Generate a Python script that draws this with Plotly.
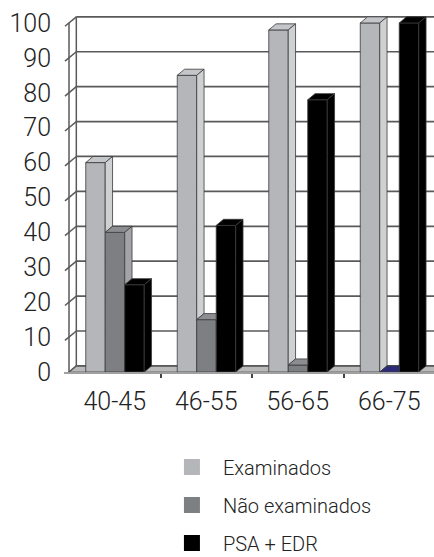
import plotly.graph_objects as go

# ---- data -------------------------------------------------------------
categories = ["40-45", "46-55", "56-65", "66-75"]
examinados = [60, 85, 98, 100]
nao_examinados = [40, 15, 2, 0]
psa_edr = [25, 42, 78, 100]
y_ticks = [0, 10, 20, 30, 40, 50, 60, 70, 80, 90, 100]

# ---- styling ----------------------------------------------------------
series = [
    # name, values, front colour, top colour, side colour
    ("Examinados", examinados, "#b4b6b9", "#c4c6c9", "#cfd0d2"),
    ("Não examinados", nao_examinados, "#7e7f83", "#8c8d91", "#a3a4a7"),
    ("PSA + EDR", psa_edr, "#000000", "#000000", "#000000"),
]
ZERO_TOP = "#2b2b7a"       # top face of an empty column
EDGE = "#3a3a3a"
FONT = "Roboto, Liberation Sans, Arial, sans-serif"
TEXT_WEIGHT = 300

BAR_W = 0.213                      # column width (category units)
OFFSETS = [-0.317, -0.104, 0.109]  # left edge of each column in a cluster
DX, DY = 0.08, 1.75                # 3-D depth in x / y data units
X_WALL = -0.5                      # front edge of the left wall
X_RANGE = [-0.5546, 3.489]
Y_RANGE = [0, 104]

fig = go.Figure()

# front faces of the columns
for k, (name, vals, front, top, side) in enumerate(series):
    fig.add_trace(go.Bar(
        x=list(range(len(categories))), y=vals, name=name,
        width=BAR_W, offset=OFFSETS[k],
        marker=dict(color=front, line=dict(color=EDGE, width=0.8)),
        legendgroup=name, showlegend=False, hoverinfo="skip",
    ))


def poly(xs, ys, color, group):
    fig.add_trace(go.Scatter(
        x=xs + [xs[0]], y=ys + [ys[0]], mode="lines", fill="toself",
        fillcolor=color, line=dict(color=EDGE, width=0.8),
        legendgroup=group, showlegend=False, hoverinfo="skip",
    ))


# top and side faces, hidden where the neighbouring column covers them
for k, (name, vals, front, top, side) in enumerate(series):
    for i, v in enumerate(vals):
        xl = i + OFFSETS[k]
        xr = xl + BAR_W
        vn = series[k + 1][1][i] if k + 1 < len(series) else None
        tcol = ZERO_TOP if v == 0 else top
        if vn is None or vn <= v:
            poly([xl, xr, xr + DX, xl + DX], [v, v, v + DY, v + DY], tcol, name)
        else:
            poly([xl, xr, xr, xl + DX], [v, v, v + DY, v + DY], tcol, name)
        if vn is None:
            poly([xr, xr + DX, xr + DX, xr], [0, DY, v + DY, v], side, name)
        elif vn < v:
            poly([xr, xr + DX, xr + DX, xr], [vn, vn + DY, v + DY, v], side, name)

# legend entries
for name, vals, front, top, side in series:
    fig.add_trace(go.Scatter(
        x=[None], y=[None], mode="markers", name=name, legendgroup=name,
        marker=dict(symbol="square", size=16, color=front),
    ))

# back wall grid, floor and left wall
shapes = []
xb = X_WALL + DX
shapes.append(dict(
    type="path", xref="x", yref="y", layer="below",
    path=f"M{X_WALL},0 L{X_RANGE[1] + 1},0 L{X_RANGE[1] + 1 + DX},{DY} L{xb},{DY} Z",
    fillcolor="#b9b9b9", line=dict(color="#6a6a6a", width=1),
))
for t in y_ticks:
    shapes.append(dict(type="line", xref="x", yref="y", layer="below",
                       x0=xb, x1=X_RANGE[1] + 1, y0=t + DY, y1=t + DY,
                       line=dict(color="#5a5a5a", width=1.7)))
    shapes.append(dict(type="line", xref="x", yref="y", layer="below",
                       x0=X_WALL - 0.044, x1=xb, y0=t - 0.95, y1=t + DY,
                       line=dict(color="#5a5a5a", width=1.5)))
shapes.append(dict(type="line", xref="x", yref="y", layer="below",
                   x0=X_WALL, x1=X_WALL, y0=0, y1=y_ticks[-1],
                   line=dict(color="#5a5a5a", width=1.5)))
shapes.append(dict(type="line", xref="x", yref="y", layer="below",
                   x0=xb, x1=xb, y0=DY, y1=y_ticks[-1] + DY,
                   line=dict(color="#5a5a5a", width=1.5)))

fig.update_layout(
    width=434, height=557,
    margin=dict(l=64, r=0, t=9, b=185, autoexpand=False),
    paper_bgcolor="white", plot_bgcolor="white",
    barmode="overlay",
    font=dict(family=FONT, color="#222222", weight=TEXT_WEIGHT),
    shapes=shapes,
    showlegend=True,
    legend=dict(
        x=0.262, xanchor="left", y=-0.208, yanchor="top",
        font=dict(size=20, family=FONT, color="#222222", weight=TEXT_WEIGHT),
        itemwidth=52, tracegroupgap=9, traceorder="grouped",
        bgcolor="rgba(0,0,0,0)",
    ),
    xaxis=dict(
        range=X_RANGE, tickmode="array",
        tickvals=list(range(len(categories))), ticktext=categories,
        showgrid=False, zeroline=False, showline=True,
        linecolor="#a0a0a0", linewidth=1.5, ticks="",
        tickfont=dict(size=25, weight=TEXT_WEIGHT), ticklabelstandoff=6,
        minor=dict(tickmode="array", tickvals=[0.5, 1.5, 2.5],
                   ticks="outside", ticklen=4, tickwidth=1.5, tickcolor="#444444"),
        fixedrange=True,
    ),
    yaxis=dict(
        range=Y_RANGE, tickmode="array", tickvals=y_ticks,
        showgrid=False, zeroline=False, showline=False, ticks="",
        tickfont=dict(size=25, weight=TEXT_WEIGHT), ticklabelstandoff=12,
        fixedrange=True,
    ),
)

fig.write_html("out.html")
